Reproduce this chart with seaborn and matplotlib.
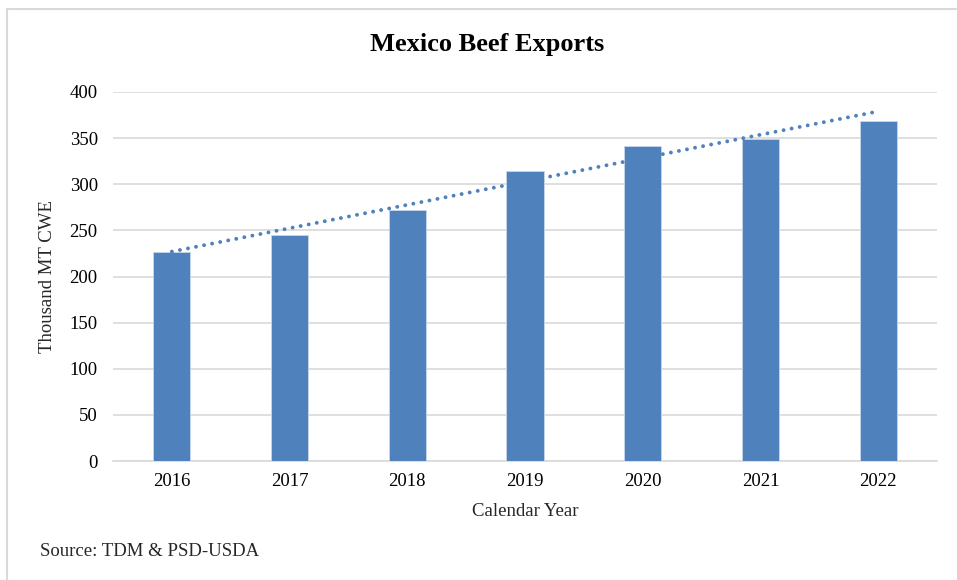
import matplotlib
matplotlib.use("Agg")
import matplotlib.pyplot as plt
import seaborn as sns
import pandas as pd
from matplotlib.patches import Rectangle

years = ["2016", "2017", "2018", "2019", "2020", "2021", "2022"]
exports = [227, 245, 272, 314, 342, 349, 369]
trend_years = ["2016", "2022"]
trend_values = [227, 379]
yticks = [0, 50, 100, 150, 200, 250, 300, 350, 400]

sns.set_theme(style="white")
plt.rcParams["font.family"] = ["Liberation Serif", "DejaVu Serif"]

df = pd.DataFrame({"year": years, "exports": exports})
fig = plt.figure(figsize=(9.57, 5.8), dpi=100)
ax = fig.add_axes([113/957, 1 - 461/580, 824/957, 369/580])

blue = "#4f81bd"
sns.barplot(data=df, x="year", y="exports", order=years, color=blue,
            width=0.315, saturation=1, edgecolor="#c9d7ea", linewidth=0.6, ax=ax, zorder=3)
tx = [years.index(y) for y in trend_years]
ax.plot(tx, trend_values, linestyle=(0, (0.01, 2.1)), dash_capstyle="round",
        color=blue, linewidth=2.8, zorder=4)

ax.set_ylim(0, 400)
ax.set_yticks(yticks)
ax.set_xlim(-0.5, 6.5)
ax.yaxis.grid(True, color="#d9d9d9", linewidth=1.2, zorder=0)
ax.set_axisbelow(True)
for s in ["top", "right", "left"]:
    ax.spines[s].set_visible(False)
ax.spines["bottom"].set_color("#d9d9d9")
ax.spines["bottom"].set_linewidth(1.2)
ax.tick_params(axis="both", length=0, labelsize=13.5, colors="black")
ax.tick_params(axis="x", pad=9)
ax.tick_params(axis="y", pad=11)
ax.set_xlabel("Calendar Year", fontsize=13.5, labelpad=9)
ax.set_ylabel("Thousand MT CWE", fontsize=13.5, labelpad=10)

fig.text(487/957, 1 - 45/580, "Mexico Beef Exports", ha="center", va="center",
         fontsize=19, fontweight="bold", color="black")
fig.text(40/957, 1 - 551/580, "Source: TDM & PSD-USDA", ha="left", va="center", fontsize=13.5)

fig.patches.append(Rectangle((7/957, -0.1), 1.2, 1 - 9/580 + 0.1, transform=fig.transFigure,
                             fill=False, edgecolor="#d9d9d9", linewidth=1.5, figure=fig))

fig.savefig("out.png", dpi=100)
